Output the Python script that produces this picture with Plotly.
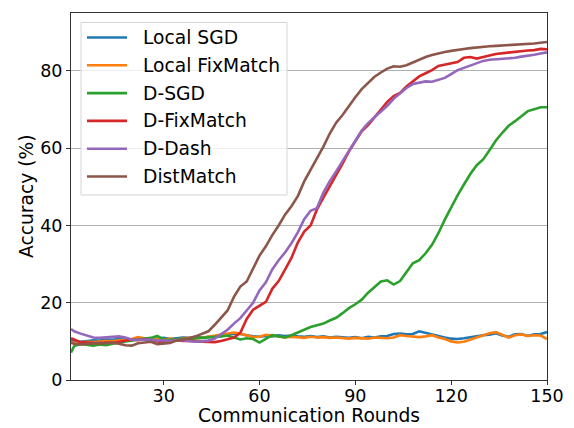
import plotly.graph_objects as go

# Communication rounds at which accuracy was recorded
rounds = [1] + list(range(2, 151, 2))

local_sgd = [10.2, 10.0, 9.9, 10.1, 10.3, 10.2, 10.5, 10.4, 10.6, 10.5, 10.3, 10.6, 10.8, 10.5, 10.7, 10.9,
             10.6, 10.8, 11.0, 10.9, 11.1, 11.0, 11.2, 11.3, 11.4, 11.8, 12.0, 11.9, 11.6, 11.3, 11.2, 11.4,
             11.3, 11.6, 11.4, 11.5, 11.3, 11.2, 11.4, 11.1, 11.3, 11.0, 11.2, 11.1, 10.9, 11.1, 10.8, 11.2,
             11.0, 11.3, 11.4, 11.9, 12.0, 11.8, 11.9, 12.6, 12.2, 11.7, 11.3, 11.0, 10.7, 10.6, 10.8, 11.1,
             11.4, 11.6, 11.7, 12.1, 11.5, 11.2, 11.8, 11.9, 11.4, 11.8, 11.9, 12.4]

local_fixmatch = [9.8, 9.6, 9.7, 9.9, 9.8, 10.0, 10.1, 10.0, 10.3, 10.4, 10.6, 11.1, 10.8, 10.5, 10.6, 10.4,
                  10.7, 10.5, 10.8, 10.9, 10.7, 11.0, 11.2, 11.6, 11.9, 12.2, 12.3, 12.0, 11.6, 11.1, 11.2, 11.7,
                  11.5, 11.2, 11.0, 11.2, 11.0, 10.9, 11.2, 11.0, 11.1, 10.9, 11.0, 10.8, 10.7, 10.9, 10.8, 10.7,
                  11.0, 10.9, 10.8, 11.0, 11.6, 11.4, 11.3, 11.1, 11.3, 11.6, 11.0, 10.6, 10.0, 9.7, 9.9, 10.5,
                  11.0, 11.7, 12.1, 12.4, 11.8, 11.0, 11.6, 11.8, 11.4, 11.6, 11.5, 10.6]

d_sgd = [7.1, 8.8, 9.3, 9.1, 8.9, 9.2, 9.0, 9.4, 9.6, 10.0, 10.2, 10.5, 10.6, 10.9, 11.4, 10.5,
         10.4, 10.6, 10.7, 10.5, 10.8, 10.9, 11.0, 11.2, 11.3, 11.5, 10.9, 10.5, 10.8, 10.6, 9.7, 10.7,
         11.6, 11.3, 11.0, 11.6, 12.2, 13.0, 13.7, 14.1, 14.6, 15.4, 16.1, 17.3, 18.6, 19.6, 20.8, 22.6,
         24.1, 25.5, 25.8, 24.7, 25.6, 28.0, 30.2, 31.0, 32.8, 35.0, 38.0, 41.5, 44.8, 47.8, 50.6, 53.3,
         55.6, 57.1, 59.5, 62.0, 64.0, 65.8, 67.0, 68.4, 69.6, 70.1, 70.6, 70.6]

d_fixmatch = [10.8, 10.5, 9.8, 9.7, 9.6, 9.5, 9.7, 9.6, 9.9, 10.2, 10.5, 10.3, 10.6, 10.2, 10.0, 9.8,
              10.0, 10.3, 10.1, 10.2, 10.0, 9.9, 9.9, 9.8, 10.1, 10.5, 11.0, 12.2, 15.8, 18.2, 19.2, 20.2,
              23.6, 25.6, 28.6, 31.6, 35.6, 38.4, 40.0, 44.2, 47.2, 50.1, 53.0, 56.0, 59.2, 61.8, 64.4, 66.0,
              68.0, 70.2, 72.0, 73.5, 74.3, 76.0, 77.3, 78.6, 79.4, 80.2, 81.3, 81.6, 82.0, 82.3, 83.4, 83.6,
              83.2, 83.7, 84.0, 84.4, 84.6, 84.7, 84.9, 85.1, 85.3, 85.4, 85.7, 85.6]

d_dash = [13.2, 12.6, 12.0, 11.4, 11.0, 10.9, 11.0, 11.2, 11.3, 11.0, 10.5, 10.4, 10.5, 10.4, 10.2, 10.3,
          10.1, 10.4, 10.2, 10.0, 9.9, 10.0, 10.2, 10.7, 11.8, 13.0, 14.6, 16.0, 18.0, 20.0, 23.2, 25.3,
          28.6, 31.0, 33.0, 35.4, 38.2, 41.6, 43.8, 44.5, 48.5, 51.5, 54.0, 56.6, 59.5, 62.0, 64.6, 66.5,
          68.0, 69.7, 71.0, 72.8, 74.3, 75.6, 76.6, 77.0, 77.3, 77.2, 77.8, 78.2, 79.2, 80.2, 80.8, 81.4,
          82.2, 82.6, 82.9, 83.0, 83.1, 83.2, 83.4, 83.7, 83.9, 84.2, 84.5, 84.8]

distmatch = [9.6, 9.4, 9.2, 9.3, 9.4, 9.6, 9.5, 9.7, 9.4, 9.0, 8.9, 9.5, 9.7, 9.9, 9.3, 9.4,
             9.6, 10.2, 10.5, 10.8, 11.3, 12.0, 12.6, 14.3, 16.2, 18.0, 21.5, 24.2, 25.5, 28.8, 32.2, 34.6,
             37.5, 40.0, 42.8, 45.0, 47.6, 51.4, 54.4, 57.0, 60.4, 63.8, 66.6, 68.6, 71.0, 73.2, 75.3, 77.0,
             78.5, 79.6, 80.6, 81.2, 81.1, 81.5, 82.2, 83.0, 83.6, 84.1, 84.6, 84.9, 85.2, 85.5, 85.7, 85.9,
             86.1, 86.2, 86.4, 86.5, 86.6, 86.6, 86.7, 86.8, 86.9, 87.1, 87.3, 87.5]

series = [
    ("Local SGD", local_sgd, "#1f77b4"),
    ("Local FixMatch", local_fixmatch, "#ff7f0e"),
    ("D-SGD", d_sgd, "#2ca02c"),
    ("D-FixMatch", d_fixmatch, "#d62728"),
    ("D-Dash", d_dash, "#9467bd"),
    ("DistMatch", distmatch, "#8c564b"),
]

x_ticks = [30, 60, 90, 120, 150]
y_ticks = [0, 20, 40, 60, 80]
x_title = "Communication Rounds"
y_title = "Accuracy (%)"

FONT = "DejaVu Sans"
TICK_FS = 17.5
LABEL_FS = 18.7
W, H = 574, 428
ML, MR, MT, MB = 71, 27, 13, 48
PW, PH = W - ML - MR, H - MT - MB


def px_x(p):
    """Pixel column -> paper x."""
    return (p - ML) / PW


def px_y(p):
    """Pixel row (from top) -> paper y."""
    return 1 - (p - MT) / PH


fig = go.Figure()
for name, vals, color in series:
    fig.add_trace(go.Scatter(
        x=rounds, y=vals, name=name, mode="lines",
        line=dict(color=color, width=2.6), showlegend=False,
    ))

axis_common = dict(
    showline=True, mirror=True, linecolor="#333333", linewidth=1,
    ticks="outside", ticklen=4, tickwidth=1, tickcolor="#333333",
    tickfont=dict(family=FONT, size=TICK_FS, color="black"),
    zeroline=False, automargin=False,
)
fig.update_xaxes(range=[1, 150], tickvals=x_ticks, showgrid=False,
                 ticklabelstandoff=-4, **axis_common)
fig.update_yaxes(range=[0, 95], tickvals=y_ticks, showgrid=True,
                 gridcolor="#b0b0b0", gridwidth=1, **axis_common)

# Axis titles
annotations = [
    dict(xref="paper", yref="paper", x=px_x(308.5), y=px_y(415.5), xanchor="center", yanchor="middle",
         showarrow=False, text=x_title, font=dict(family=FONT, size=LABEL_FS, color="black")),
    dict(xref="paper", yref="paper", x=px_x(27), y=px_y(196), xanchor="center", yanchor="middle",
         showarrow=False, text=y_title, textangle=-90,
         font=dict(family=FONT, size=LABEL_FS, color="black")),
]

# Legend box drawn in the upper-left corner of the axes
shapes = [dict(
    type="rect", xref="paper", yref="paper", layer="above",
    x0=px_x(81), x1=px_x(287), y0=px_y(195), y1=px_y(22.5),
    fillcolor="rgba(255,255,255,0.8)", line=dict(color="#d5d5d5", width=1),
)]
row0, row_gap = 37.5, 27.8
for i, (name, _, color) in enumerate(series):
    yy = px_y(row0 + i * row_gap)
    shapes.append(dict(
        type="line", xref="paper", yref="paper", layer="above",
        x0=px_x(87), x1=px_x(127), y0=yy, y1=yy,
        line=dict(color=color, width=2.6),
    ))
    annotations.append(dict(
        xref="paper", yref="paper", x=px_x(141), y=yy,
        xanchor="left", yanchor="middle", showarrow=False, text=name,
        font=dict(family=FONT, size=LABEL_FS, color="black"),
    ))

fig.update_layout(
    width=W, height=H,
    margin=dict(l=ML, r=MR, t=MT, b=MB),
    paper_bgcolor="white", plot_bgcolor="white",
    font=dict(family=FONT, color="black"),
    showlegend=False,
    shapes=shapes, annotations=annotations,
)
fig.write_html("out.html")
